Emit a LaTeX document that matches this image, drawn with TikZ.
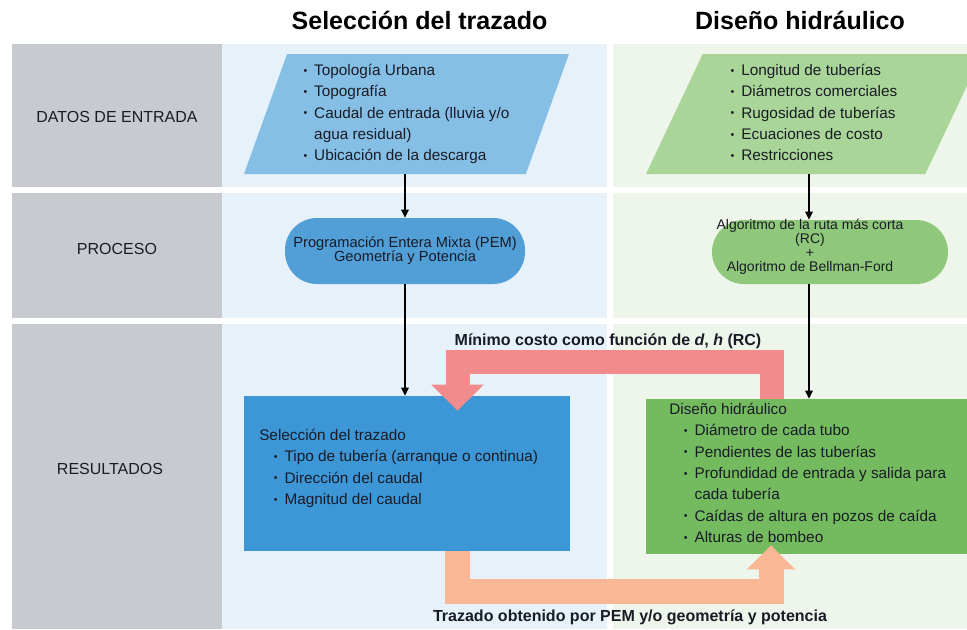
\documentclass[tikz,border=0pt]{standalone}
\usepackage{fontspec}
\setmainfont{Liberation Sans}
\usetikzlibrary{arrows.meta,calc,shapes.geometric}

\definecolor{gris}{RGB}{199,203,208}
\definecolor{fondoazul}{RGB}{230,241,250}
\definecolor{fondoverde}{RGB}{238,245,234}
\definecolor{azulclaro}{RGB}{134,191,230}
\definecolor{azulmedio}{RGB}{82,158,215}
\definecolor{azul}{RGB}{61,150,214}
\definecolor{verdeclaro}{RGB}{170,213,152}
\definecolor{verdemedio}{RGB}{143,200,122}
\definecolor{verde}{RGB}{116,187,96}
\definecolor{rosa}{RGB}{242,139,139}
\definecolor{naranja}{RGB}{249,183,150}
\definecolor{tinta}{RGB}{25,28,38}

\newcommand{\punto}{\makebox[8pt][l]{\raisebox{1pt}{\fontsize{8}{8}\selectfont\textbullet}}}

\tikzset{
  rotulo/.style={font=\fontsize{12}{14}\selectfont, text=tinta},
  titulo/.style={font=\fontsize{18.75}{22}\selectfont\bfseries},
  entrada/.style={trapezium, trapezium stretches body, minimum height=90pt, inner sep=0pt,
    font=\fontsize{11.5}{16}\selectfont, text=tinta},
  proceso/.style={rectangle, rounded corners=24pt, minimum height=49.5pt, align=center, text=tinta},
  caja/.style={minimum width=244.5pt, minimum height=116.25pt},
  texto/.style={anchor=base west, inner sep=0pt, font=\fontsize{11.5}{16}\selectfont, text=tinta},
  flecha/.style={-{Triangle[length=6pt,width=5.5pt]}, line width=1.5pt, black},
  gruesa/.style={line width=18pt, line join=miter},
  nota/.style={font=\fontsize{12}{14}\selectfont\bfseries, text=tinta}
}

\begin{document}
\begin{tikzpicture}[x=0.75pt,y=-0.75pt]
  \clip (0,0) rectangle (967,629);
  \fill[white] (0,0) rectangle (967,629);
  \foreach \a/\b in {44/187,193/318,324/629} {
    \fill[gris] (12,\a) rectangle (222,\b);
    \fill[fondoazul] (222,\a) rectangle (607,\b);
    \fill[fondoverde] (613,\a) rectangle (967,\b);
  }

  \node[titulo] (tsel) at (419.5,20) {Selección del trazado};
  \node[titulo] (thid) at (800,20) {Diseño hidráulico};

  \node[rotulo] (datos) at (117,117) {DATOS DE ENTRADA};
  \node[rotulo] (proc) at (117,249) {PROCESO};
  \node[rotulo] (res) at (110,469) {RESULTADOS};

  \node[entrada, fill=azulclaro, trapezium left angle=68, trapezium right angle=112,
    minimum width=243.75pt] (datsel) at (406.5,114) {\begin{tabular}{@{}l@{}}
      \punto Topología Urbana\\
      \punto Topografía\\
      \punto Caudal de entrada (lluvia y/o\\
      \hspace{8pt}agua residual)\\
      \punto Ubicación de la descarga
    \end{tabular}};
  \node[entrada, fill=verdeclaro, trapezium left angle=62, trapezium right angle=118,
    minimum width=252pt] (dathid) at (814,114) {\begin{tabular}{@{}l@{}}
      \punto Longitud de tuberías\\
      \punto Diámetros comerciales\\
      \punto Rugosidad de tuberías\\
      \punto Ecuaciones de costo\\
      \punto Restricciones
    \end{tabular}\hspace{21pt}};

  \node[proceso, fill=azulmedio, minimum width=180pt, font=\fontsize{11}{10.5}\selectfont]
    (pem) at (405,251) {Programación Entera Mixta (PEM)\\Geometría y Potencia};
  \node[proceso, fill=verdemedio, minimum width=177pt, minimum height=48pt] (algfig) at (830,252) {};
  \node[align=center, inner sep=0pt, font=\fontsize{10.5}{10.5}\selectfont, text=tinta] (alg) at (810,247)
    {Algoritmo de la ruta más corta\\(RC)\\+\\Algoritmo de Bellman-Ford};

  \node[caja, fill=azul] (sel) at (407,473.5) {};
  \node[texto] (selt) at (259,440.5) {\begin{tabular}[t]{@{}l@{}}
      Selección del trazado\\
      \hspace{11pt}\punto Tipo de tubería (arranque o continua)\\
      \hspace{11pt}\punto Dirección del caudal\\
      \hspace{11pt}\punto Magnitud del caudal
    \end{tabular}};
  \node[caja, fill=verde] (hid) at (809,476.5) {};
  \node[texto] (hidt) at (669,414.5) {\begin{tabular}[t]{@{}l@{}}
      Diseño hidráulico\\
      \hspace{11pt}\punto Diámetro de cada tubo\\
      \hspace{11pt}\punto Pendientes de las tuberías\\
      \hspace{11pt}\punto Profundidad de entrada y salida para\\
      \hspace{19pt}cada tubería\\
      \hspace{11pt}\punto Caídas de altura en pozos de caída\\
      \hspace{11pt}\punto Alturas de bombeo
    \end{tabular}};

  \draw[flecha] (datsel.south -| pem.north) -- (pem.north);
  \draw[flecha] (pem.south) -- (pem.south |- sel.north);
  \draw[flecha] (dathid.south -| hid.north) -- (algfig.north -| hid.north);
  \draw[flecha] (algfig.south -| hid.north) -- (hid.north);

  \draw[gruesa, rosa, -{Triangle[length=19.5pt,width=38pt]}] ($(hid.north)+(-37,0)$)
    |- ($(sel.north)+(50.5,-34)$) -- ($(sel.north)+(50.5,15)$);
  \draw[gruesa, naranja, line width=18.75pt, -{Triangle[length=18pt,width=35pt]}] ($(sel.south)+(50.5,0)$)
    |- ($(hid.south)+(-38,37.5)$) -- ($(hid.south)+(-38,-9)$);

  \node[nota] (costo) at (608,341) {Mínimo costo como función de \textit{d}, \textit{h} (RC)};
  \node[nota] (traz) at (630,617) {Trazado obtenido por PEM y/o geometría y potencia};
\end{tikzpicture}
\end{document}
